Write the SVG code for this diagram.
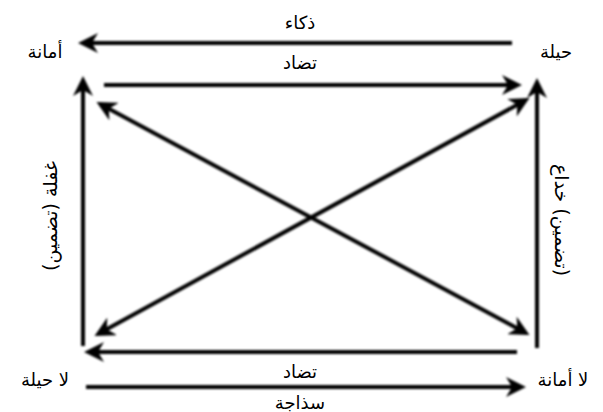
<svg xmlns="http://www.w3.org/2000/svg" width="603" height="412" viewBox="0 0 603 412">
<style>
.t{font-family:"DejaVu Sans","Noto Sans",sans-serif;font-size:18px;fill:#000;text-anchor:middle}
.v{font-size:19px}
.c{stroke:#000;stroke-width:4;fill:none}
</style>
<defs>
<filter id="sh" x="-10%" y="-10%" width="120%" height="120%"><feGaussianBlur stdDeviation="0.8"/></filter>
<marker id="a" viewBox="0 0 10 10" refX="8" refY="5" markerWidth="5" markerHeight="5" orient="auto-start-reverse" markerUnits="strokeWidth">
<path d="M0,0 L10,5 L0,10 L3,5 Z" fill="#000"/>
</marker>
</defs>
<rect width="603" height="412" fill="#fff"/>
<g id="connectors" filter="url(#sh)">
<line class="c" x1="512" y1="43" x2="82" y2="43" marker-end="url(#a)"/>
<line class="c" x1="104" y1="85" x2="518" y2="85" marker-end="url(#a)"/>
<line class="c" x1="83" y1="346" x2="83" y2="80" marker-end="url(#a)"/>
<line class="c" x1="537" y1="348" x2="537" y2="82" marker-end="url(#a)"/>
<line class="c" x1="100" y1="104" x2="526" y2="333" marker-start="url(#a)" marker-end="url(#a)"/>
<line class="c" x1="98" y1="334" x2="526" y2="100" marker-start="url(#a)" marker-end="url(#a)"/>
<line class="c" x1="517" y1="352" x2="88" y2="352" marker-end="url(#a)"/>
<line class="c" x1="86" y1="387" x2="522" y2="387" marker-end="url(#a)"/>
</g>
<g id="n1"><text class="t" x="45" y="58">أمانة</text></g>
<g id="n2"><text class="t" x="556" y="58">حيلة</text></g>
<g id="n3"><text class="t" x="45" y="386">لا حيلة</text></g>
<g id="n4"><text class="t" x="563" y="386">لا أمانة</text></g>
<g id="labels">
<text class="t" x="300" y="29">ذكاء</text>
<text class="t" x="300" y="69">تضاد</text>
<text class="t" x="300" y="378">تضاد</text>
<text class="t" x="300" y="409">سذاجة</text>
<text class="t v" transform="translate(57,216) rotate(-90)">غفلة (تضمين)</text>
<text class="t v" direction="rtl" transform="translate(555,220) rotate(90)">(تضمين) خداع</text>
</g>
</svg>
